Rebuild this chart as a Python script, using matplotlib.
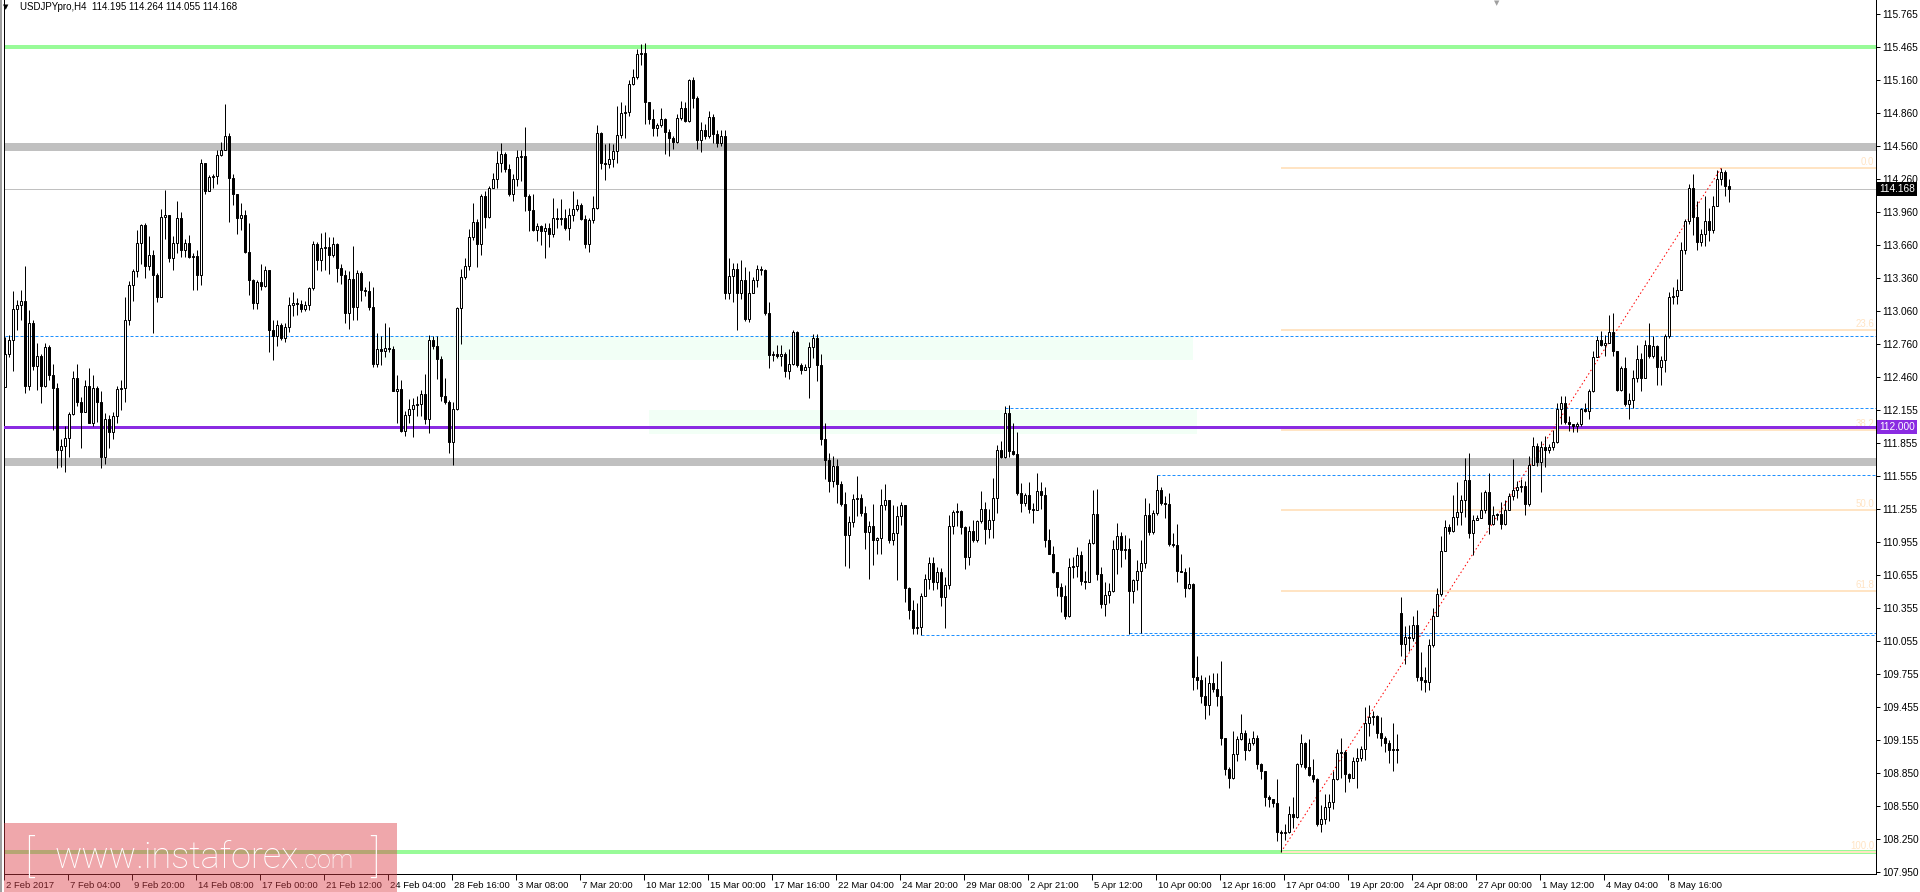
import numpy as np
import matplotlib
matplotlib.use('Agg')
import matplotlib.pyplot as plt
import matplotlib.transforms as mtransforms
from matplotlib.patches import Rectangle

plt.rcParams['font.family'] = ['Liberation Sans', 'DejaVu Sans']

# USDJPYpro H4 candles (open of a bar = previous close)
first_open = 112.37
gap_opens = {349: 110.31}   # weekend gap on 24 Apr

closes = [
    112.67, 112.80, 113.08, 113.11, 113.15, 112.38, 112.95, 112.56, 112.65, 112.38,
    112.73, 112.48, 112.36, 111.79, 111.83, 111.90, 112.12, 112.45, 112.23, 112.14,
    112.38, 112.04, 112.36, 112.23, 111.73, 112.08, 111.96, 112.10, 112.35, 112.36,
    112.98, 113.30, 113.42, 113.68, 113.84, 113.47, 113.57, 113.39, 113.19, 113.92,
    113.93, 113.54, 113.68, 113.91, 113.62, 113.68, 113.55, 113.56, 113.39, 114.41,
    114.15, 114.28, 114.29, 114.48, 114.53, 114.65, 114.27, 114.13, 113.91, 113.93,
    113.60, 113.34, 113.13, 113.32, 113.29, 113.43, 112.89, 112.83, 112.93, 112.81,
    112.91, 113.11, 113.13, 113.12, 113.08, 113.11, 113.27, 113.67, 113.52, 113.63,
    113.64, 113.57, 113.67, 113.45, 113.39, 113.04, 113.35, 113.10, 113.41, 113.25,
    113.24, 113.10, 112.58, 112.71, 112.70, 112.72, 112.71, 112.33, 112.35, 111.97,
    112.11, 112.17, 112.20, 112.21, 112.30, 112.08, 112.80, 112.74, 112.62, 112.29,
    112.23, 111.87, 112.17, 113.09, 113.37, 113.47, 113.73, 113.87, 113.67, 114.11,
    113.92, 114.18, 114.26, 114.41, 114.49, 114.35, 114.13, 114.26, 114.46, 114.47,
    114.11, 113.98, 113.80, 113.83, 113.79, 113.82, 113.76, 113.91, 113.90, 113.91,
    113.82, 113.93, 113.99, 114.03, 113.90, 113.67, 113.89, 114.00, 114.68, 114.41,
    114.40, 114.44, 114.52, 114.66, 114.86, 114.87, 115.13, 115.19, 115.40, 115.41,
    114.96, 114.81, 114.73, 114.75, 114.81, 114.69, 114.64, 114.60, 114.82, 114.91,
    114.79, 115.16, 115.00, 114.62, 114.71, 114.65, 114.83, 114.67, 114.59, 114.65,
    113.22, 113.38, 113.44, 113.22, 113.34, 112.99, 113.22, 113.34, 113.44, 113.43,
    113.04, 112.66, 112.67, 112.65, 112.67, 112.51, 112.58, 112.87, 112.57, 112.52,
    112.55, 112.73, 112.81, 112.57, 111.89, 111.70, 111.51, 111.65, 111.48, 111.30,
    111.02, 111.14, 111.35, 111.36, 111.22, 111.05, 111.10, 110.97, 110.99, 111.29,
    111.34, 110.97, 111.04, 111.19, 111.29, 110.54, 110.34, 110.17, 110.18, 110.46,
    110.62, 110.76, 110.59, 110.68, 110.45, 110.56, 111.10, 111.23, 111.24, 111.09,
    110.82, 111.06, 110.97, 111.15, 111.26, 111.07, 111.16, 111.36, 111.79, 111.73,
    112.13, 111.78, 111.76, 111.40, 111.31, 111.38, 111.26, 111.25, 111.42, 111.38,
    110.97, 110.85, 110.68, 110.55, 110.46, 110.28, 110.73, 110.74, 110.84, 110.60,
    110.59, 110.95, 111.21, 110.66, 110.39, 110.47, 110.51, 110.89, 111.01, 110.88,
    110.89, 110.51, 110.61, 110.69, 110.76, 111.20, 111.05, 111.22, 111.43, 111.31,
    111.30, 110.94, 110.93, 110.69, 110.68, 110.54, 110.57, 109.73, 109.70, 109.55,
    109.47, 109.67, 109.62, 109.55, 109.17, 108.89, 108.81, 109.02, 109.16, 109.22,
    109.06, 109.12, 109.17, 108.93, 108.87, 108.63, 108.61, 108.58, 108.31, 108.30,
    108.31, 108.48, 108.45, 108.93, 109.12, 108.91, 108.83, 108.80, 108.39, 108.43,
    108.54, 108.59, 108.80, 109.03, 109.04, 108.84, 108.81, 108.96, 108.99, 109.07,
    109.31, 109.36, 109.37, 109.22, 109.17, 109.12, 109.06, 109.07, 109.06, 110.03,
    110.09, 110.08, 110.20, 109.73, 109.70, 109.68, 110.02, 110.28, 110.48, 110.87,
    111.09, 111.06, 111.18, 111.23, 111.34, 111.52, 111.04, 111.16, 111.17, 111.25,
    111.41, 111.12, 111.20, 111.21, 111.12, 111.25, 111.37, 111.43, 111.46, 111.47,
    111.30, 111.66, 111.83, 111.68, 111.82, 111.79, 111.82, 111.87, 112.17, 112.22,
    112.05, 112.03, 112.01, 112.03, 112.17, 112.15, 112.33, 112.64, 112.80, 112.75,
    112.77, 112.87, 112.70, 112.34, 112.54, 112.21, 112.25, 112.45, 112.62, 112.45,
    112.75, 112.65, 112.74, 112.55, 112.61, 112.83, 113.19, 113.20, 113.25, 113.62,
    113.88, 114.18, 113.92, 113.69, 113.76, 113.88, 113.80, 114.02, 114.26, 114.33,
    114.195, 114.168,
]

highs = [
    112.82, 112.84, 113.24, 113.16, 113.25, 113.47, 113.07, 112.98, 112.77, 112.67,
    112.77, 112.75, 112.58, 112.40, 111.89, 112.01, 112.14, 112.51, 112.58, 112.28,
    112.43, 112.54, 112.48, 112.38, 112.33, 112.13, 112.11, 112.14, 112.38, 112.43,
    113.19, 113.33, 113.44, 113.80, 113.85, 113.86, 113.74, 113.62, 113.41, 113.99,
    114.16, 113.93, 113.74, 114.06, 113.96, 113.72, 113.75, 113.59, 113.62, 114.44,
    114.41, 114.30, 114.31, 114.53, 114.60, 114.95, 114.68, 114.31, 114.13, 114.04,
    113.98, 113.86, 113.35, 113.34, 113.49, 113.47, 113.43, 112.98, 112.98, 112.95,
    112.95, 113.19, 113.23, 113.18, 113.16, 113.15, 113.28, 113.70, 113.69, 113.77,
    113.78, 113.73, 113.73, 113.68, 113.49, 113.43, 113.42, 113.65, 113.43, 113.42,
    113.28, 113.33, 113.28, 112.86, 112.83, 112.95, 112.91, 112.74, 112.48, 112.43,
    112.15, 112.26, 112.27, 112.29, 112.34, 112.49, 112.84, 112.83, 112.83, 112.65,
    112.45, 112.25, 112.23, 113.10, 113.44, 113.54, 113.81, 114.04, 113.90, 114.13,
    114.15, 114.20, 114.32, 114.52, 114.59, 114.51, 114.40, 114.31, 114.53, 114.53,
    114.74, 114.13, 114.13, 113.86, 113.84, 113.86, 113.86, 114.09, 114.00, 114.08,
    113.99, 114.00, 114.15, 114.08, 114.04, 113.93, 113.91, 114.11, 114.75, 114.69,
    114.58, 114.59, 114.58, 114.93, 114.96, 114.94, 115.16, 115.26, 115.45, 115.49,
    115.50, 114.96, 114.90, 114.77, 114.91, 114.82, 114.72, 114.65, 114.85, 114.97,
    114.96, 115.17, 115.19, 115.02, 114.78, 114.76, 114.88, 114.85, 114.71, 114.71,
    114.71, 113.54, 113.50, 113.50, 113.52, 113.46, 113.42, 113.37, 113.48, 113.47,
    113.44, 113.14, 112.70, 112.75, 112.75, 112.69, 112.71, 112.89, 112.88, 112.59,
    112.58, 112.78, 112.85, 112.85, 112.67, 112.04, 111.77, 111.74, 111.71, 111.51,
    111.41, 111.19, 111.39, 111.56, 111.39, 111.28, 111.15, 111.30, 111.00, 111.44,
    111.48, 111.34, 111.29, 111.28, 111.32, 111.03, 110.55, 110.43, 110.40, 110.49,
    110.66, 110.82, 110.82, 110.73, 110.72, 110.64, 111.20, 111.25, 111.31, 111.25,
    111.10, 111.10, 111.16, 111.16, 111.42, 111.32, 111.26, 111.54, 111.84, 111.88,
    112.19, 112.20, 112.04, 111.96, 111.49, 111.40, 111.50, 111.31, 111.58, 111.50,
    111.46, 111.07, 110.92, 110.68, 110.58, 110.56, 110.81, 110.82, 110.91, 110.87,
    110.69, 110.98, 111.43, 111.44, 110.73, 110.59, 110.58, 110.97, 111.13, 111.05,
    111.02, 110.99, 110.62, 110.79, 110.97, 111.36, 111.31, 111.25, 111.57, 111.46,
    111.37, 111.40, 111.04, 111.12, 110.85, 110.72, 110.73, 110.58, 109.92, 109.74,
    109.73, 109.74, 109.76, 109.76, 109.87, 109.17, 108.91, 109.23, 109.19, 109.39,
    109.24, 109.17, 109.23, 109.20, 108.94, 108.86, 108.65, 108.61, 108.80, 108.33,
    108.39, 108.55, 108.63, 108.94, 109.21, 109.13, 109.16, 108.98, 108.81, 108.56,
    108.66, 108.66, 108.87, 109.07, 109.17, 109.06, 108.85, 109.00, 109.08, 109.10,
    109.45, 109.47, 109.42, 109.38, 109.36, 109.19, 109.15, 109.31, 109.21, 110.45,
    110.19, 110.20, 110.28, 110.34, 109.95, 109.82, 110.07, 110.35, 110.54, 111.01,
    111.16, 111.12, 111.38, 111.50, 111.38, 111.72, 111.77, 111.20, 111.20, 111.41,
    111.43, 111.58, 111.28, 111.22, 111.32, 111.34, 111.40, 111.71, 111.51, 111.53,
    111.51, 111.74, 111.91, 111.86, 111.88, 111.92, 111.85, 111.98, 112.22, 112.29,
    112.29, 112.10, 112.03, 112.05, 112.18, 112.22, 112.35, 112.70, 112.83, 112.88,
    112.84, 113.02, 113.04, 112.70, 112.56, 112.64, 112.31, 112.52, 112.75, 112.68,
    112.80, 112.95, 112.83, 112.75, 112.65, 112.85, 113.23, 113.28, 113.35, 113.69,
    113.90, 114.22, 114.31, 114.06, 113.81, 114.11, 114.00, 114.11, 114.34, 114.36,
    114.34, 114.264,
]

lows = [
    112.37, 112.64, 112.51, 112.89, 112.98, 112.31, 112.34, 112.52, 112.34, 112.22,
    112.37, 112.43, 111.98, 111.63, 111.64, 111.59, 111.73, 112.11, 112.19, 111.81,
    112.14, 112.04, 112.01, 112.05, 111.63, 111.67, 111.81, 111.89, 112.04, 112.16,
    112.23, 112.93, 113.15, 113.37, 113.49, 113.36, 113.43, 112.86, 113.14, 113.45,
    113.72, 113.51, 113.43, 113.59, 113.55, 113.55, 113.54, 113.25, 113.25, 113.30,
    114.13, 114.15, 114.18, 114.22, 114.47, 114.53, 113.87, 114.03, 113.76, 113.80,
    113.59, 113.21, 113.08, 113.08, 113.25, 113.28, 112.69, 112.61, 112.74, 112.80,
    112.78, 112.87, 113.01, 113.02, 113.05, 113.06, 113.07, 113.25, 113.43, 113.42,
    113.43, 113.40, 113.55, 113.32, 113.31, 112.95, 112.90, 112.98, 112.98, 113.15,
    113.20, 113.07, 112.55, 112.55, 112.57, 112.64, 112.69, 112.33, 112.04, 111.96,
    111.92, 112.04, 111.91, 112.10, 112.10, 112.03, 111.95, 112.71, 112.44, 112.24,
    112.21, 111.77, 111.66, 112.16, 112.76, 113.35, 113.43, 113.71, 113.46, 113.57,
    113.82, 113.91, 114.18, 114.18, 114.33, 114.33, 114.11, 114.06, 114.20, 114.24,
    113.97, 113.79, 113.79, 113.70, 113.66, 113.54, 113.64, 113.73, 113.82, 113.84,
    113.80, 113.71, 113.88, 113.97, 113.89, 113.63, 113.60, 113.86, 113.99, 114.35,
    114.25, 114.36, 114.37, 114.41, 114.64, 114.64, 114.84, 115.12, 115.17, 115.30,
    114.76, 114.76, 114.65, 114.65, 114.74, 114.49, 114.47, 114.54, 114.59, 114.80,
    114.78, 114.78, 114.91, 114.54, 114.51, 114.63, 114.64, 114.59, 114.55, 114.56,
    113.17, 113.17, 113.14, 112.89, 113.17, 112.97, 112.96, 113.27, 113.28, 113.39,
    113.02, 112.54, 112.60, 112.63, 112.56, 112.46, 112.44, 112.57, 112.55, 112.49,
    112.52, 112.27, 112.63, 112.42, 111.84, 111.53, 111.41, 111.46, 111.31, 111.28,
    110.74, 110.72, 111.09, 111.19, 111.19, 110.89, 110.62, 110.75, 110.85, 110.85,
    111.25, 110.95, 110.93, 110.61, 111.11, 110.41, 110.25, 110.12, 110.12, 110.11,
    110.46, 110.53, 110.52, 110.53, 110.37, 110.17, 110.53, 111.03, 111.10, 111.03,
    110.71, 110.75, 110.96, 110.96, 111.13, 110.94, 110.99, 110.99, 111.22, 111.72,
    111.72, 111.73, 111.75, 111.38, 111.23, 111.28, 111.22, 111.13, 111.25, 111.26,
    110.91, 110.85, 110.67, 110.46, 110.32, 110.25, 110.27, 110.63, 110.64, 110.56,
    110.53, 110.59, 110.94, 110.61, 110.35, 110.28, 110.40, 110.50, 110.66, 110.73,
    110.80, 110.12, 110.40, 110.52, 110.13, 110.72, 111.02, 111.03, 111.20, 111.29,
    111.17, 110.92, 110.91, 110.59, 110.68, 110.45, 110.53, 109.61, 109.62, 109.49,
    109.34, 109.38, 109.59, 109.46, 109.11, 108.83, 108.71, 108.80, 108.96, 109.15,
    108.97, 109.05, 109.11, 108.89, 108.80, 108.55, 108.54, 108.54, 108.23, 108.13,
    108.24, 108.30, 108.35, 108.44, 108.91, 108.89, 108.82, 108.77, 108.37, 108.31,
    108.39, 108.41, 108.52, 108.79, 108.81, 108.68, 108.77, 108.81, 108.71, 108.96,
    108.97, 109.19, 109.29, 109.17, 109.10, 109.04, 108.94, 108.87, 108.94, 109.92,
    109.84, 109.96, 110.05, 109.69, 109.61, 109.59, 109.61, 110.00, 110.28, 110.46,
    110.88, 111.03, 111.05, 111.11, 111.11, 111.18, 110.99, 110.84, 111.16, 111.18,
    111.22, 111.03, 111.11, 111.16, 111.07, 111.11, 111.26, 111.34, 111.36, 111.41,
    111.20, 111.28, 111.67, 111.65, 111.41, 111.64, 111.77, 111.79, 111.86, 112.03,
    112.03, 111.97, 111.96, 111.96, 112.01, 112.14, 112.08, 112.32, 112.65, 112.74,
    112.65, 112.77, 112.65, 112.33, 112.33, 112.19, 112.08, 112.18, 112.41, 112.33,
    112.45, 112.63, 112.63, 112.39, 112.39, 112.50, 112.81, 113.12, 113.12, 113.25,
    113.58, 113.85, 113.75, 113.62, 113.65, 113.65, 113.70, 113.77, 114.02, 114.21,
    114.11, 114.055,
]

# time axis labels, one every 16 bars
time_labels = ["2 Feb 2017", "7 Feb 04:00", "9 Feb 20:00", "14 Feb 08:00", "17 Feb 00:00",
               "21 Feb 12:00", "24 Feb 04:00", "28 Feb 16:00", "3 Mar 08:00", "7 Mar 20:00",
               "10 Mar 12:00", "15 Mar 00:00", "17 Mar 16:00", "22 Mar 04:00", "24 Mar 20:00",
               "29 Mar 08:00", "2 Apr 21:00", "5 Apr 12:00", "10 Apr 00:00", "12 Apr 16:00",
               "17 Apr 04:00", "19 Apr 20:00", "24 Apr 08:00", "27 Apr 00:00", "1 May 12:00",
               "4 May 04:00", "8 May 16:00"]
price_labels = ["115.765", "115.465", "115.160", "114.860", "114.560", "114.260", "113.960",
                "113.660", "113.360", "113.060", "112.760", "112.460", "112.155", "111.855",
                "111.555", "111.255", "110.955", "110.655", "110.355", "110.055", "109.755",
                "109.455", "109.155", "108.850", "108.550", "108.250", "107.950"]

# drawn objects
green_levels = [115.465, 108.13]
gray_levels = [114.553, 111.68]
purple_level = 112.000
bid = 114.168
dashed_levels = [(0, 112.83), (250, 112.18), (288, 111.565), (229, 110.11), (281, 110.13)]
zones = [(93, 297, 112.61, 112.83), (161, 298, 111.94, 112.16)]
fib_lo_bar, fib_hi_bar = 319, 429
fib_ratios = [0.0, 23.6, 38.2, 50.0, 61.8, 100.0]

# ---------------------------------------------------------------
W, H = 1920, 892
fig = plt.figure(figsize=(W / 100, H / 100), dpi=100)
ax = fig.add_axes([4 / W, 18 / H, 1872 / W, 874 / H])
xmin, xmax = -0.25, -0.25 + 1872 / 4
ax.set_xlim(xmin, xmax)
ax.set_ylim(107.931, 115.893)

closes = np.array(closes)
highs = np.array(highs)
lows = np.array(lows)
n = len(closes)
x = np.arange(n)
opens = np.r_[first_open, closes[:-1]]
for i, o in gap_opens.items():
    opens[i] = o
hi = np.maximum(highs, np.maximum(opens, closes))
lo = np.minimum(lows, np.minimum(opens, closes))
up = closes >= opens

px = 0.72  # one pixel in points

# zones, levels
for x0, x1, y0, y1 in zones:
    ax.add_patch(Rectangle((x0, y0), x1 - x0, y1 - y0, fc='#F2FFF6', ec='none', zorder=0.5))
for g in gray_levels:
    ax.axhline(g, color='#C0C0C0', lw=8 * px, zorder=1)
for g in green_levels:
    ax.axhline(g, color='#98FB98', lw=4 * px, zorder=1)
ax.axhline(bid, color='#C0C0C0', lw=1 * px, zorder=1)
for x0, yv in dashed_levels:
    ax.hlines(yv, x0, xmax, color='#1E90FF', lw=1 * px, linestyles=(0, (3, 2)), zorder=2)

fib_hi = hi[fib_hi_bar]
fib_lo = lo[fib_lo_bar]
for r in fib_ratios:
    yv = fib_hi - (fib_hi - fib_lo) * r / 100
    ax.hlines(yv, fib_lo_bar, xmax, color='#FFE4C4', lw=2 * px, zorder=2)
    ax.annotate('%.1f' % r, xy=(1, yv), xycoords=('axes fraction', 'data'),
                xytext=(-2, 1), textcoords='offset pixels', ha='right', va='bottom',
                fontsize=7, color='#FFE4C4', zorder=2)
ax.axhline(purple_level, color='#8A2BE2', lw=3 * px, zorder=3)
ax.plot([fib_lo_bar, fib_hi_bar], [fib_lo, fib_hi], color='red', lw=1 * px,
        ls=(0, (1.5, 2.5)), zorder=4)

# candles
ax.vlines(x, lo, hi, color='black', lw=1 * px, zorder=5)
ax.bar(x[up], (closes - opens)[up], bottom=opens[up], width=0.5, color='white',
       edgecolor='black', lw=1 * px, zorder=6)
ax.bar(x[~up], (opens - closes)[~up], bottom=closes[~up], width=0.5, color='black',
       edgecolor='black', lw=1 * px, zorder=6)

# axes styling
ax.spines['top'].set_visible(False)
for s in ['left', 'right', 'bottom']:
    ax.spines[s].set_linewidth(1 * px)
ax.yaxis.tick_right()
ax.set_yticks([float(v) for v in price_labels])
ax.set_yticklabels(price_labels)
ax.tick_params(axis='y', length=3, width=1 * px, pad=1.5, labelsize=7.3)
ax.set_xticks(np.arange(len(time_labels)) * 16 - 0.25)
ax.set_xticklabels(time_labels)
ax.tick_params(axis='x', length=4, width=1 * px, pad=1, labelsize=6.8)
offset = mtransforms.ScaledTranslation(2 / 100, 0, fig.dpi_scale_trans)
for lbl in ax.get_xticklabels():
    lbl.set_horizontalalignment('left')
    lbl.set_transform(lbl.get_transform() + offset)

# price boxes on the right scale
for val, txt, fc in [(bid, '114.168', 'black'), (purple_level, '112.000', '#8A2BE2')]:
    ax.annotate(txt, xy=(1, val), xycoords=('axes fraction', 'data'), xytext=(3, 0),
                textcoords='offset pixels', ha='left', va='center', fontsize=7.3, color='white',
                bbox=dict(boxstyle='square,pad=0.2', fc=fc, ec='none'),
                annotation_clip=False, zorder=10)

# header
fig.text(3 / W, 1 - 7 / H, '▼', fontsize=5, ha='left', va='center', family='DejaVu Sans')
fig.text(20 / W, 1 - 7 / H, 'USDJPYpro,H4  114.195 114.264 114.055 114.168',
         fontsize=7, ha='left', va='center')
fig.text(1497 / W, 1 - 3 / H, '▼', fontsize=5, ha='center', va='center',
         color='#A0A0A0', family='DejaVu Sans')
fig.add_artist(plt.Line2D([1 / W, 1 / W], [0, 1], color='#A0A0A0', lw=2 * px))

# watermark
fig.add_artist(Rectangle((4 / W, 0), 393 / W, 69 / H, transform=fig.transFigure,
                         fc=(220 / 255, 60 / 255, 70 / 255, 0.45), ec='none', zorder=10))
wm = dict(color='white', va='baseline', zorder=11, family=['Roboto', 'DejaVu Sans'],
          fontweight='light')
fig.text(24 / W, 20 / H, '[', fontsize=32, ha='left', **wm)
t_main = fig.text(55 / W, 24 / H, 'www.instaforex', fontsize=26, ha='left', **wm)
fig.canvas.draw()
bb = t_main.get_window_extent()
fig.text(bb.x1 / W, 24 / H, '.com', fontsize=18, ha='left', **wm)
fig.text(370 / W, 20 / H, ']', fontsize=32, ha='left', **wm)

fig.savefig('out.png', dpi=100)
